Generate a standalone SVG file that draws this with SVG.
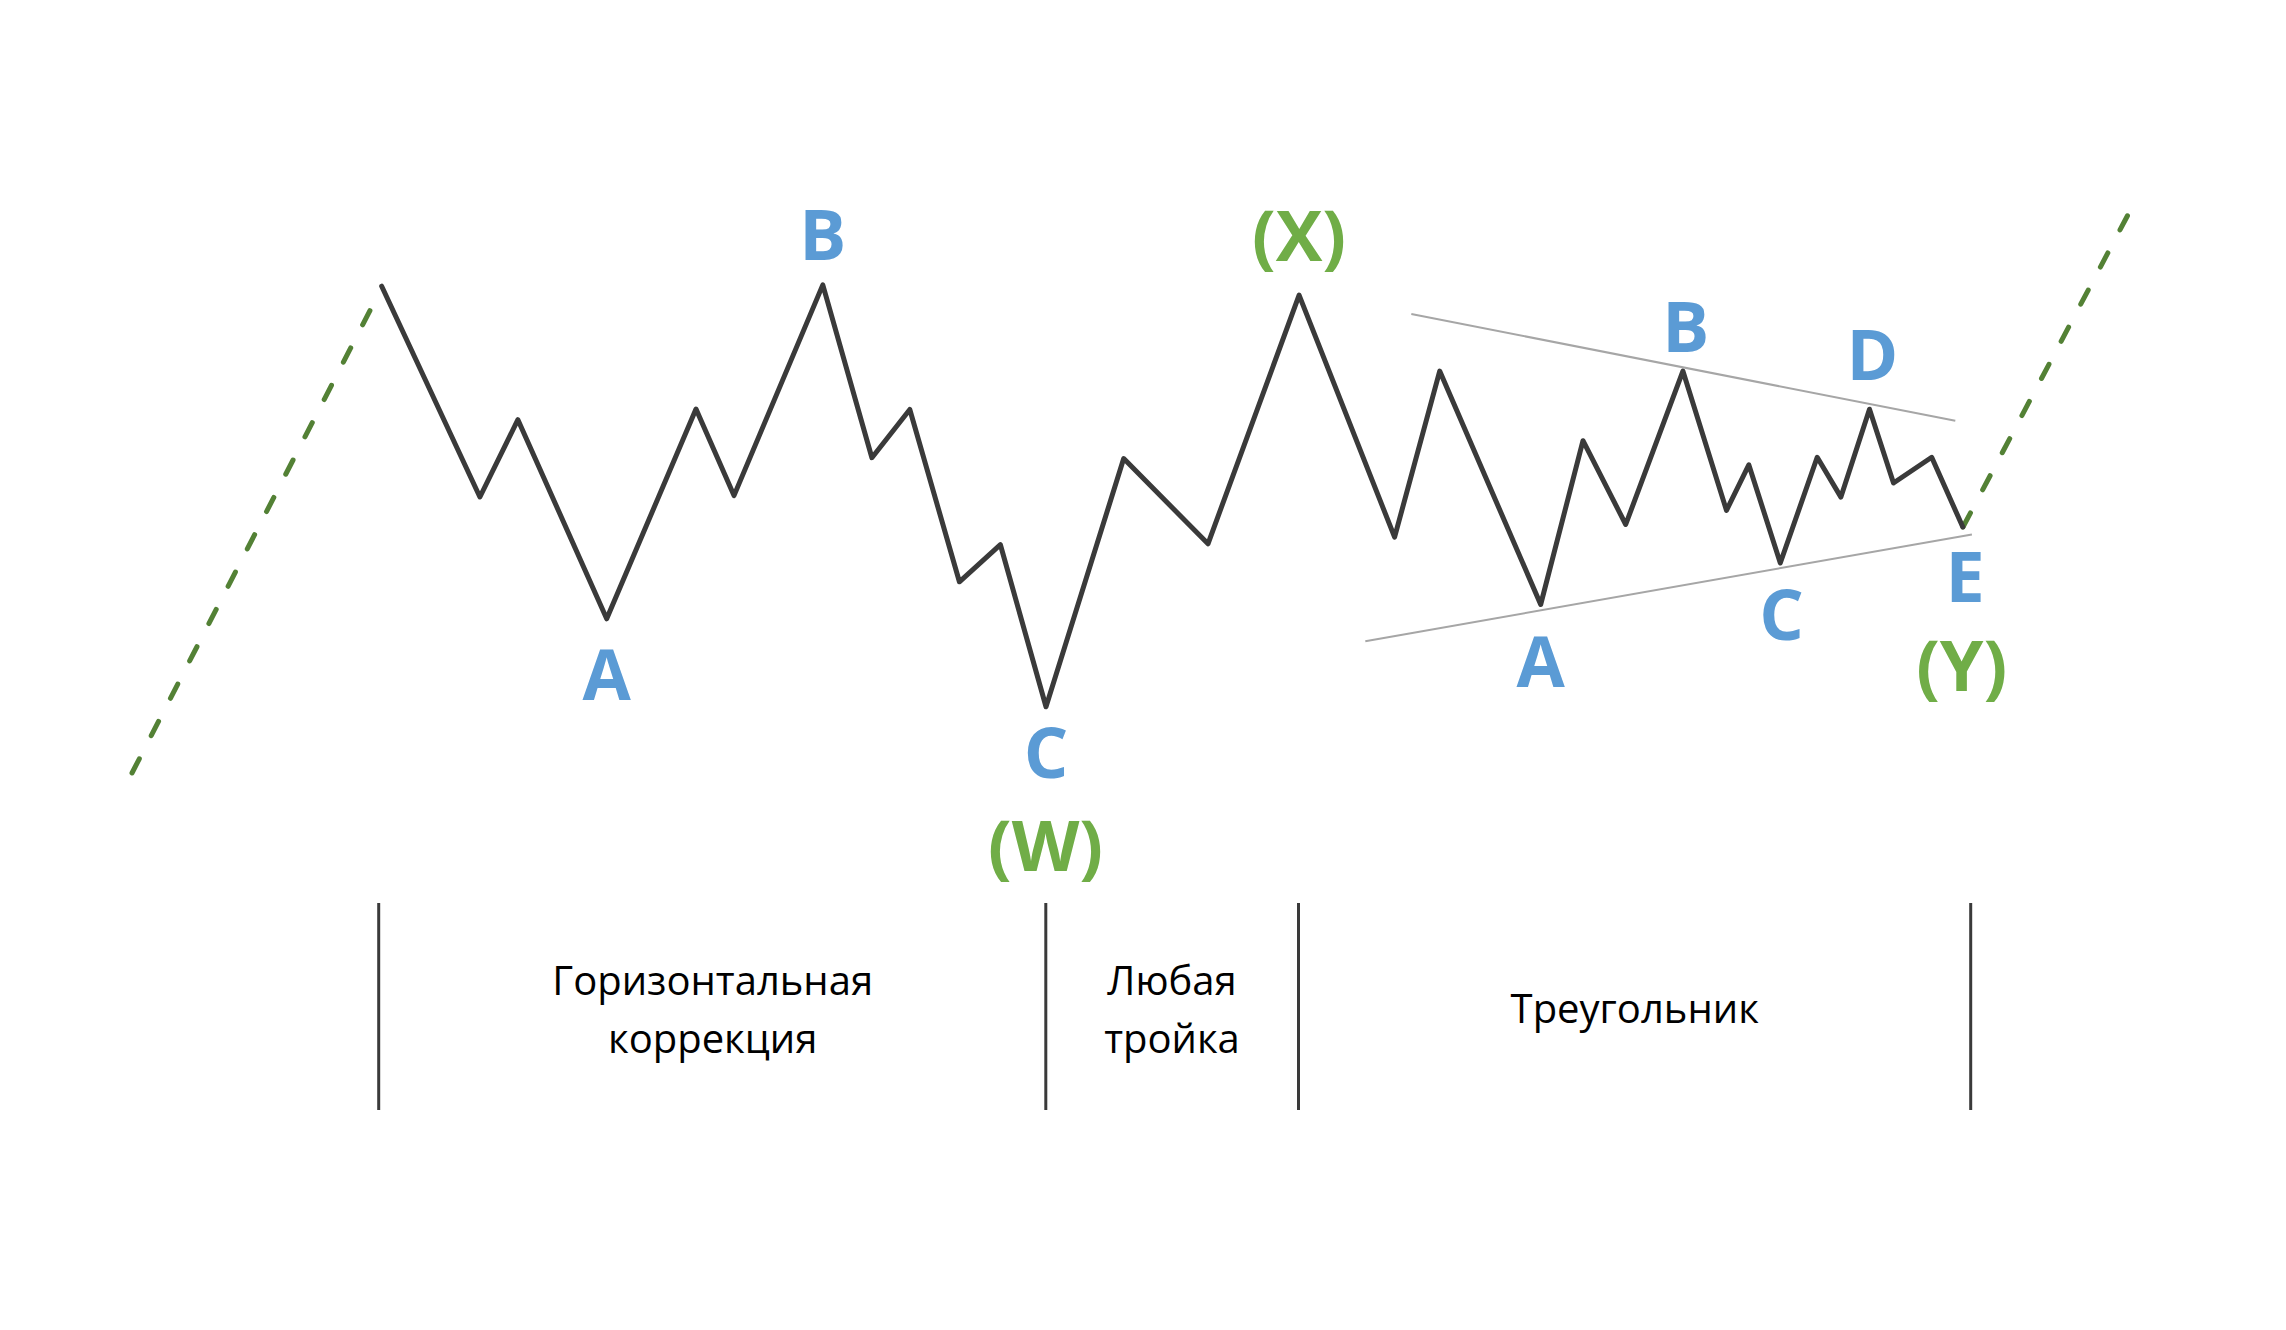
<svg xmlns="http://www.w3.org/2000/svg" width="2286" height="1330" viewBox="0 0 2286 1330">
  <style>
    .wave { fill: none; stroke: #3a3a3a; stroke-width: 5; stroke-linejoin: round; stroke-linecap: round; }
    .dash { fill: none; stroke: #538135; stroke-width: 5; stroke-linecap: round; stroke-dasharray: 16 26; }
    .trend { fill: none; stroke: #a6a6a6; stroke-width: 2; }
    .sep { stroke: #3a3a3a; stroke-width: 3; }
    .lbl { font-family: "Open Sans", "Noto Sans", sans-serif; font-weight: bold; font-size: 70px; text-anchor: middle; }
    .blue { fill: #5b9bd5; }
    .green { fill: #70ad47; }
    .cap { font-family: "Open Sans", "Noto Sans", sans-serif; font-size: 40px; fill: #000000; text-anchor: middle; }
  </style>
  <rect width="2286" height="1330" fill="#ffffff"/>

  <g id="connectors">
    <line id="lead-in" class="dash" x1="132" y1="773" x2="372.3" y2="306"/>
    <line id="lead-out" class="dash" x1="1963" y1="527" x2="2130" y2="211"/>
    <line id="triangle-upper" class="trend" x1="1411.3" y1="314" x2="1955.3" y2="420.8"/>
    <line id="triangle-lower" class="trend" x1="1365.3" y1="641.3" x2="1971.9" y2="534.4"/>
    <polyline id="wave" class="wave" points="381.7,286.2 479.9,497 517.9,419.7 606.7,618.8 696,409 734,495.6 822.8,284.9 871.9,457.7 909.8,409.5 959.4,581.8 1000.4,544.7 1046,706.8 1123.7,458.6 1208,543.8 1299.1,295.2 1394.6,537.1 1439.7,371.1 1540.7,604.5 1583,440.7 1625.7,524.5 1682.9,371.1 1726.5,510.4 1748.8,464.8 1780.3,563 1817.2,457.3 1840.9,497.1 1869.5,409.2 1893.5,483 1931.7,457.3 1962.8,527"/>
  </g>

  <g id="label-A1"><text class="lbl blue" x="606.7" y="700">A</text></g>
  <g id="label-B1"><text class="lbl blue" x="822.8" y="259.5">B</text></g>
  <g id="label-C1"><text class="lbl blue" x="1046" y="778">C</text></g>
  <g id="label-W"><text class="lbl green" x="1045.5" y="871">(W)</text></g>
  <g id="label-X"><text class="lbl green" x="1299" y="261">(X)</text></g>
  <g id="label-A2"><text class="lbl blue" x="1540.7" y="687.4">A</text></g>
  <g id="label-B2"><text class="lbl blue" x="1685.8" y="351.6">B</text></g>
  <g id="label-C2"><text class="lbl blue" x="1781.6" y="640">C</text></g>
  <g id="label-D"><text class="lbl blue" x="1872.4" y="379.8">D</text></g>
  <g id="label-E"><text class="lbl blue" x="1965" y="601.6">E</text></g>
  <g id="label-Y"><text class="lbl green" x="1961.7" y="691">(Y)</text></g>

  <g id="sections">
    <line class="sep" x1="378.7" y1="903" x2="378.7" y2="1110"/>
    <line class="sep" x1="1045.8" y1="903" x2="1045.8" y2="1110"/>
    <line class="sep" x1="1298.5" y1="903" x2="1298.5" y2="1110"/>
    <line class="sep" x1="1970.7" y1="903" x2="1970.7" y2="1110"/>
  </g>
  <g id="section-horizontal">
    <text class="cap" x="712.7" y="995">Горизонтальная</text>
    <text class="cap" x="712.7" y="1053">коррекция</text>
  </g>
  <g id="section-any-three">
    <text class="cap" x="1172" y="995">Любая</text>
    <text class="cap" x="1172" y="1053">тройка</text>
  </g>
  <g id="section-triangle">
    <text class="cap" x="1634.7" y="1022.7">Треугольник</text>
  </g>
</svg>
